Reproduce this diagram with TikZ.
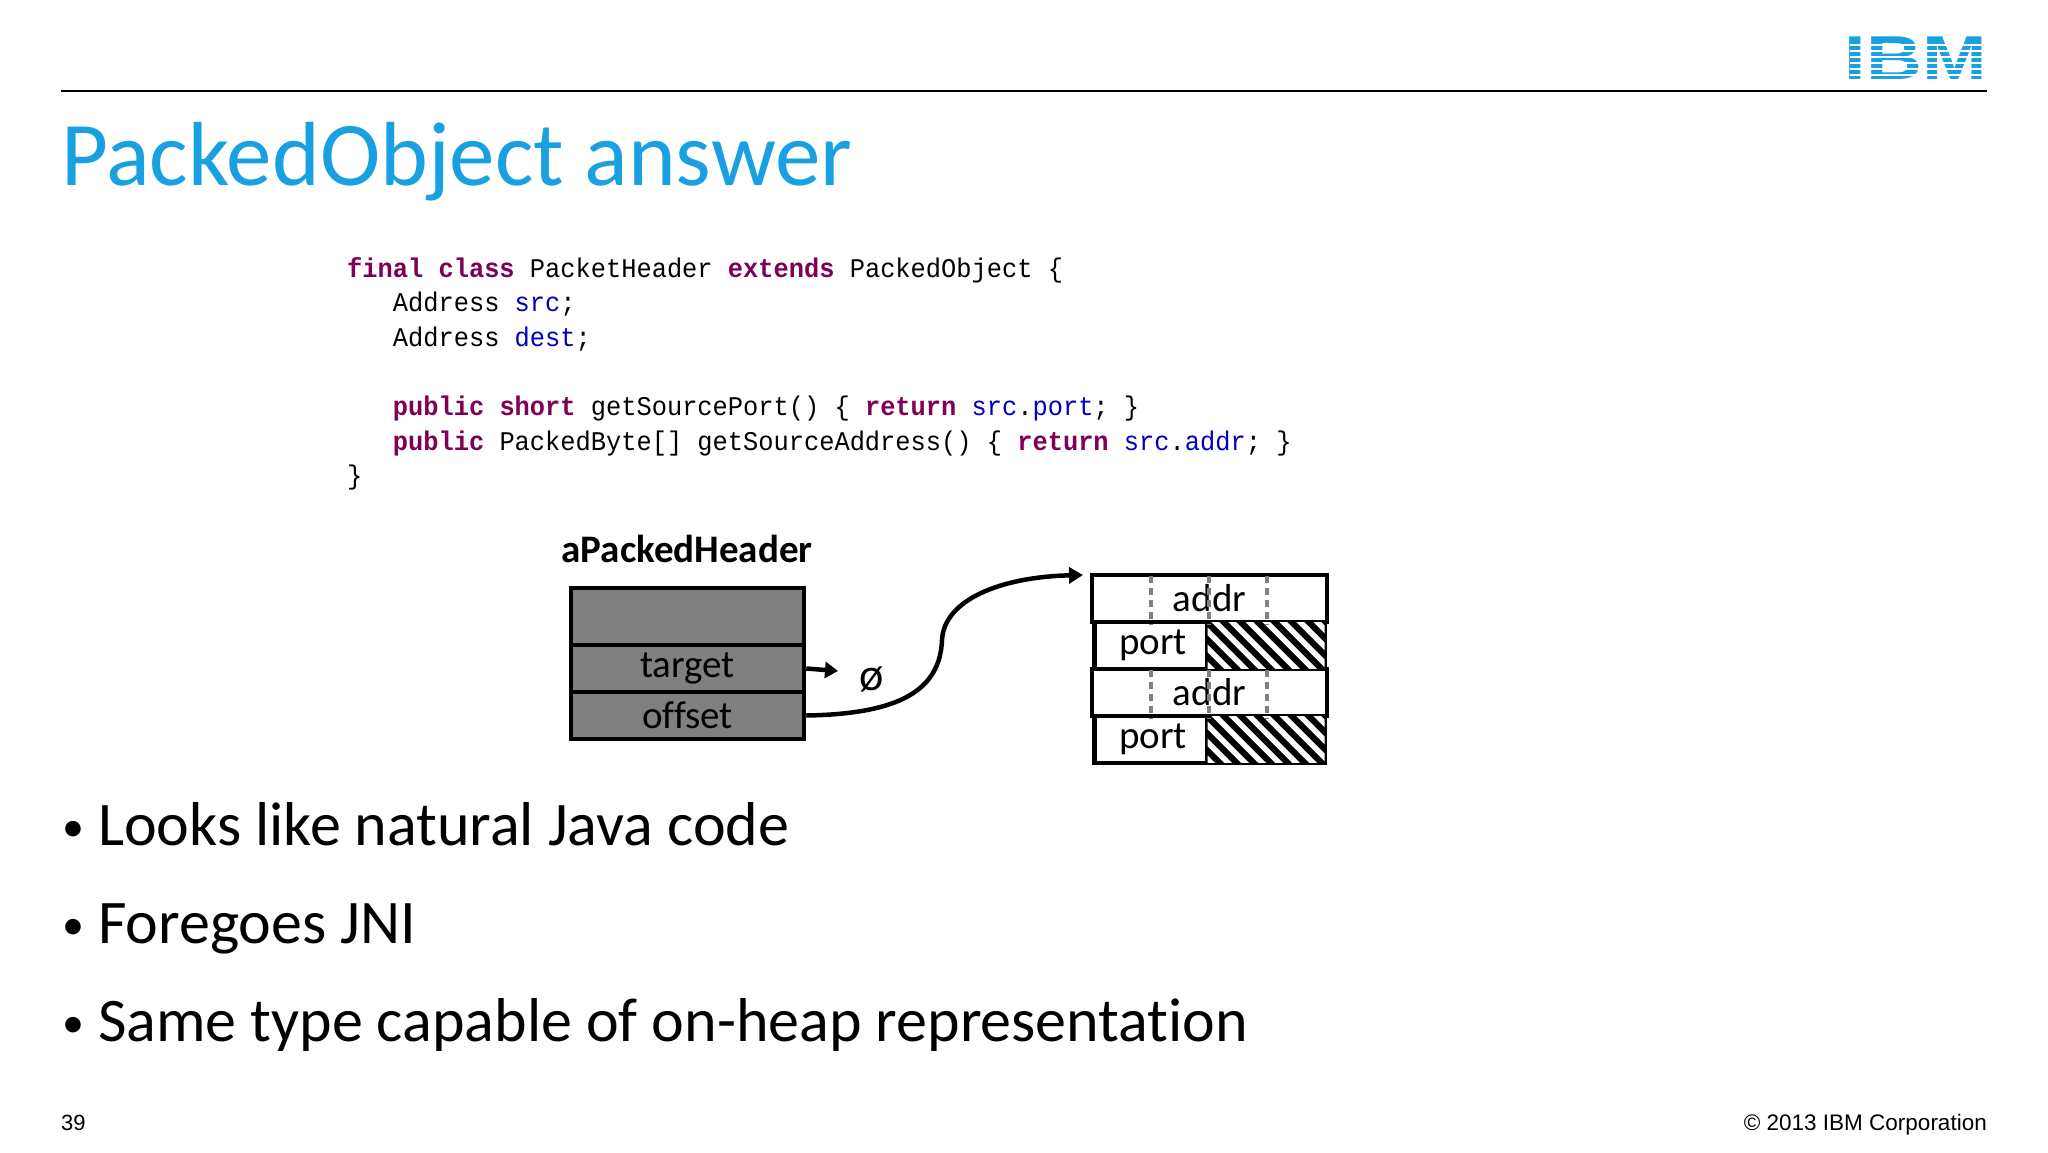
\documentclass[tikz,border=0pt]{standalone}
\usepackage{fontspec}
\usetikzlibrary{arrows.meta}
\setmainfont{Carlito}[Ligatures=NoCommon]
\newfontfamily\codefont{Liberation Mono}[FakeStretch=0.94]
\newfontfamily\arialfont{Liberation Sans}
\definecolor{ibmblue}{RGB}{25,160,225}
\definecolor{kw}{RGB}{127,0,85}
\definecolor{fld}{RGB}{0,0,192}
\definecolor{boxgray}{RGB}{128,128,128}
\newcommand{\kwd}[1]{\textcolor{kw}{\bfseries #1}}
\newcommand{\fldx}[1]{\textcolor{fld}{#1}}
\newcommand{\bul}{\raisebox{4pt}{\fontsize{44}{44}\selectfont•}\hspace{14pt}}
\tikzset{
  codeline/.style={anchor=base west,inner sep=0,font=\codefont\fontsize{27}{30}\selectfont},
  bullet/.style={anchor=base west,inner sep=0,font=\fontsize{62}{64}\selectfont},
  cell/.style={draw=black,line width=4.5pt,minimum width=#1,minimum height=47pt,inner sep=0,font=\fontsize{39}{40}\selectfont},
  grey/.style={cell=233pt,fill=boxgray},
}
\begin{document}
\begin{tikzpicture}[x=1pt,y=-1pt]
\useasboundingbox (0,0) rectangle (2048,1152);
\fill[white] (0,0) rectangle (2048,1152);
% header
\draw[line width=2pt] (61,91) -- (1987,91);
\node[anchor=east,inner sep=0,font=\arialfont\bfseries\fontsize{62}{62}\selectfont,text=ibmblue,xscale=1.25] (ibm) at (1987,58) {IBM};
\foreach \yy in {44,50,56,62,68,74} \fill[white] (1850,\yy) rectangle (1992,\yy+2.2);
\node[anchor=base west,inner sep=0,text=ibmblue,font=\fontsize{91}{91}\selectfont] (title) at (61,185) {PackedObject answer};
% code
\node[codeline] (c1) at (347,277) {\kwd{final} \kwd{class} PacketHeader \kwd{extends} PackedObject \{};
\node[codeline] (c2) at (347,311) {\ \ \ Address \fldx{src};};
\node[codeline] (c3) at (347,346) {\ \ \ Address \fldx{dest};};
\node[codeline] (c4) at (347,415) {\ \ \ \kwd{public} \kwd{short} getSourcePort() \{ \kwd{return} \fldx{src}.\fldx{port}; \}};
\node[codeline] (c5) at (347,450) {\ \ \ \kwd{public} PackedByte[] getSourceAddress() \{ \kwd{return} \fldx{src}.\fldx{addr}; \}};
\node[codeline] (c6) at (347,484) {\}};
% left object
\node[anchor=center,inner sep=0,font=\bfseries\fontsize{39}{40}\selectfont] (lbl) at (687,549) {aPackedHeader};
\node[grey,minimum height=57pt] (g0) at (687.5,616.5) {};
\node[grey] (g1) at (687.5,668.5) {target};
\node[grey] (g2) at (687.5,715.5) {offset};
\node[inner sep=0,font=\fontsize{46}{46}\selectfont] (null) at (872,679) {ø};
\coordinate (tgt) at (838,671);
\draw[line width=4.5pt,-{Triangle[length=13pt,width=16pt]}] (g1.east) -- (tgt);
% right object
\node[cell=235pt] (a1) at (1209.5,598.5) {addr};
\node[cell=117.5pt,anchor=west] (p1) at (1092,645.5) {port};
\node[cell=117.5pt,anchor=east,fill=black] (h1) at (1327,645.5) {};
\node[cell=235pt] (a2) at (1209.5,692.5) {addr};
\node[cell=117.5pt,anchor=west] (p2) at (1092,739.5) {port};
\node[cell=117.5pt,anchor=east,fill=black] (h2) at (1327,739.5) {};
\foreach \h in {h1,h2}{
  \begin{scope}
  \clip (\h.south west) ++(2.5,-2.5) rectangle ([xshift=-2.5pt,yshift=-2.5pt]\h.north east);
  \foreach \k in {-60,-43,...,140} \draw[white,line width=5.5pt] ([xshift=\k pt]\h.north west) -- ++(60,60);
  \end{scope}
}
\foreach \a in {a1,a2} \foreach \xx in {1151,1209,1267}
  \draw[gray,line width=4pt,dash pattern=on 7pt off 5pt] (\xx,0 |- \a.north) ++(0,3) -- (\xx,0 |- \a.south);
% curve
\coordinate (end) at (1083,575);
\draw[line width=4.5pt,-{Triangle[length=14pt,width=16pt]}] (g2.east) .. controls (900,714) and (940,690) .. (942,640) .. controls (944,600) and (1000,577) .. (end);
% bullets
\node[bullet] (b1) at (62,845) {\bul Looks like natural Java code};
\node[bullet] (b2) at (62,943) {\bul Foregoes JNI};
\node[bullet] (b3) at (62,1041) {\bul Same type capable of on-heap representation};
% footer
\node[anchor=base west,inner sep=0,font=\arialfont\fontsize{22}{22}\selectfont] (pg) at (61,1130) {39};
\node[anchor=base east,inner sep=0,font=\arialfont\fontsize{22.5}{22}\selectfont] (copy) at (1987,1130) {© 2013 IBM Corporation};
\end{tikzpicture}
\end{document}
